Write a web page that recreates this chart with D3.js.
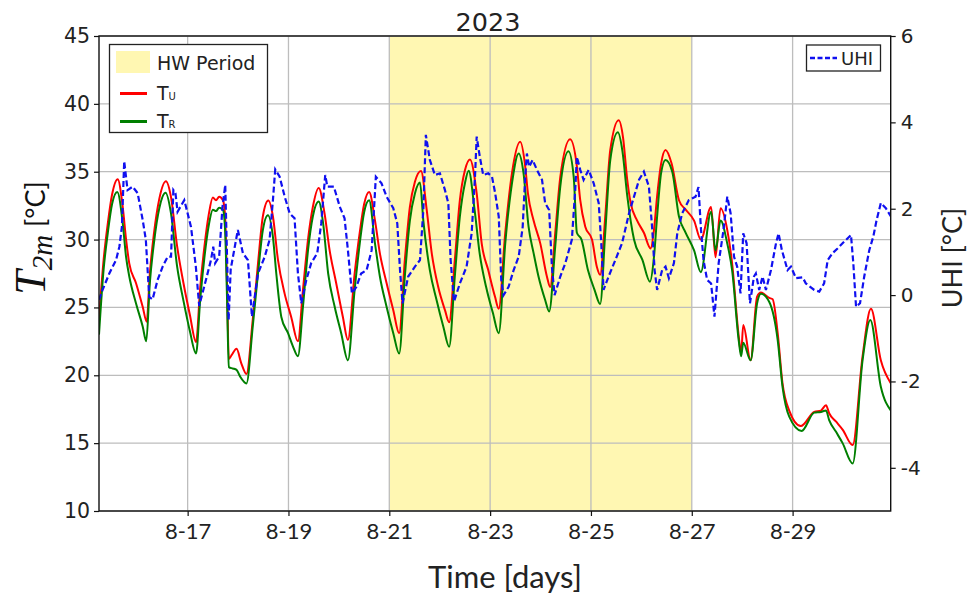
<!DOCTYPE html>
<html>
<head>
<meta charset="utf-8">
<script src="https://cdn.jsdelivr.net/npm/d3@7"></script>
<style>
  body { margin: 0; background: #ffffff; }
  svg { display: block; }
</style>
</head>
<body>
<svg id="chart" width="970" height="599"></svg>
<script>
// Hourly readings, [hours since 15 Aug 2023 00:00, value]
const urbanTemp = [
  [5.8, 24.1], [8, 28.5], [10, 31.2], [12, 33.3], [14.7, 34.45], [17.1, 32.4], [18.7, 30.0], [20.2, 28.25], [23.4, 26.8], [26.6, 25.05], [28.5, 23.95],
  [30, 27.5], [32, 30.5], [34.5, 33.0], [37.7, 34.3], [40, 33.2], [43, 29.5], [46, 26.8], [49, 24.5], [52, 22.45],
  [54, 26.5], [56, 29.5], [58, 31.8], [60, 33.1], [61.5, 32.9], [63, 33.15], [64.8, 32.9], [65.8, 31.8], [66.7, 27.0], [67.6, 21.2], [69, 21.5], [71.3, 21.95], [73.5, 20.9], [76, 20.1],
  [79, 24.1], [81.5, 28.25], [83.8, 31.7], [86.4, 32.87], [88.6, 31.7], [91, 28.5], [94.2, 26.0], [97.3, 24.3], [100.5, 22.5],
  [102.9, 26.3], [105.3, 30.0], [107.6, 32.4], [110.4, 33.8], [113.2, 31.9], [115.6, 29.2], [118.7, 26.8], [121.9, 24.3], [124.3, 22.6],
  [127.5, 27.5], [130, 30.6], [132, 32.6], [134.4, 33.5], [137.2, 31.4], [139.5, 29.0], [142.7, 26.8], [145.9, 24.8], [148.7, 23.1],
  [151.4, 28.5], [153.8, 32.4], [156.2, 34.26], [159.1, 35.05], [161.8, 32.2], [164.2, 29.0], [167.3, 26.5], [170.5, 24.8], [172.5, 23.9],
  [175.2, 28.5], [177.6, 32.9], [180.0, 35.1], [182.4, 35.9], [185.6, 33.4], [188.0, 29.7], [191.1, 27.75], [194.3, 25.8], [196.1, 24.9],
  [199.2, 30.5], [202.4, 34.9], [206.3, 37.2], [208.7, 35.4], [210.0, 33.4], [212.7, 31.4], [215.9, 29.7], [219.0, 27.3], [220.6, 26.5],
  [223.0, 30.5], [225.4, 34.6], [230.1, 37.4], [233.3, 35.4], [234.9, 32.9], [237.3, 30.95], [240.5, 30.0], [242.8, 28.0], [244.4, 27.4],
  [246.8, 31.7], [249.2, 36.6], [253.2, 38.8], [255.3, 37.5], [257.2, 34.5], [258.9, 32.7], [262.0, 31.4], [265.2, 30.5], [268.4, 29.35],
  [270, 30.7], [271.5, 33.2], [273.4, 35.6], [275.5, 36.6], [278.4, 35.6], [281.9, 32.9], [285.1, 32.2], [289.1, 31.4], [292.3, 30.0],
  [297.2, 32.4], [299.3, 28.7], [301.7, 32.3], [304.9, 30.7], [307.2, 28.25], [310.4, 22.8], [311.5, 21.6], [312.5, 23.7], [316.0, 21.1], [319.1, 25.8],
  [320.9, 26.1], [324.9, 25.7], [326.5, 25.6], [328.9, 23.1], [331.2, 19.4], [334.4, 17.4], [339.9, 16.26], [346.3, 17.3], [349.5, 17.4], [351.9, 17.8],
  [353.4, 17.2], [356.6, 16.6], [359.8, 16.0], [364.6, 14.86], [369.3, 21.4], [373.3, 24.9], [378.0, 21.1], [382.8, 19.4]
];

const ruralTemp = [
  [5.8, 23.0], [8, 27.8], [10, 30.5], [12, 32.6], [14.5, 33.5], [17.1, 31.2], [18.7, 28.7], [20.2, 27.3], [23.4, 25.3], [26.6, 23.6], [28.3, 22.5],
  [30, 26.8], [32, 29.8], [34.5, 32.3], [37.5, 33.45], [40, 32.0], [43, 28.0], [46, 25.5], [49, 23.3], [52, 21.6],
  [54, 25.6], [56, 28.7], [58, 31.0], [60, 32.2], [61.5, 32.1], [63, 32.35], [64.8, 32.2], [65.8, 30.8], [66.7, 26.0], [67.6, 20.6], [69.5, 20.5], [71.3, 20.4], [73, 19.9], [76, 19.4],
  [79, 23.6], [81.5, 27.5], [83.8, 30.7], [86.2, 31.8], [88.6, 30.2], [90.2, 27.5], [92.6, 24.3], [95.8, 23.1], [98.2, 22.1], [100.5, 21.4],
  [102.9, 25.05], [105.3, 29.2], [107.6, 31.7], [110.4, 32.8], [112.5, 31.2], [114.9, 27.5], [118, 25.05], [121.1, 23.1], [124.3, 21.1],
  [127.5, 26.3], [130, 29.8], [132, 32.0], [134.4, 32.9], [137.2, 29.7], [139.5, 27.3], [142.7, 25.05], [145.9, 23.1], [148.7, 21.6],
  [151.4, 27.3], [153.8, 31.4], [156.2, 33.4], [158.6, 34.2], [160.2, 31.4], [163.3, 27.75], [166.5, 25.55], [169.7, 23.6], [172.5, 22.1],
  [175.2, 27.3], [177.6, 31.7], [180.0, 34.15], [181.8, 35.07], [184.6, 32.2], [187, 29.0], [190.1, 26.5], [193.3, 24.6], [196.1, 23.1],
  [199.2, 29.7], [202.4, 34.15], [205.6, 36.35], [207.9, 34.9], [210.3, 30.95], [212.7, 29.0], [215.0, 27.3], [218.2, 25.55], [220.1, 24.7],
  [223.0, 29.5], [225.4, 33.9], [229.3, 36.5], [231.8, 34.6], [233.3, 30.5], [235.5, 30.0], [238.5, 27.8], [241.7, 26.3], [244.4, 25.25],
  [246.8, 30.5], [249.2, 35.86], [252.8, 37.9], [255.0, 36.5], [257.3, 33.2], [260.5, 30.0], [264.5, 28.5], [268.1, 26.9],
  [270, 28.7], [271.5, 31.7], [273.4, 34.9], [275.5, 35.86], [278.7, 35.0], [281.9, 31.7], [285.1, 30.5], [289.1, 29.2], [292.3, 27.6],
  [297.2, 32.05], [299.3, 29.2], [301.7, 31.4], [304.9, 29.7], [307.2, 27.75], [310.4, 22.5], [311.5, 21.4], [312.5, 22.4], [316.0, 21.1], [319.1, 25.3],
  [320.9, 26.0], [324.9, 25.4], [328.9, 22.6], [331.2, 19.15], [334.4, 16.95], [340.3, 15.9], [346.3, 17.25], [349.5, 17.3], [351.9, 17.4],
  [353.4, 16.7], [356.6, 15.85], [359.8, 15.0], [364.6, 13.5], [369.3, 21.1], [373.0, 24.07], [378.0, 19.15], [382.8, 17.4]
];

const uhiSeries = [
  [5.8, -0.11], [7.5, 0.12], [10.7, 0.5], [13.9, 0.81], [15.5, 1.12], [16.7, 1.58], [17.8, 3.1], [19.4, 2.43], [21.8, 2.51], [24.2, 2.36], [26.6, 1.74], [28.1, 1.28], [29.7, -0.04], [31.3, -0.1],
  [33.7, 0.35], [36.1, 0.66], [38.5, 0.89], [40.1, 0.89], [41.2, 2.43], [42.2, 2.36], [43.2, 1.93], [46.4, 2.2], [49.6, 1.58], [51.9, 0.66], [53.5, -0.25],
  [56.7, 0.35], [59.1, 0.81], [60.2, 1.12], [61.1, 0.74], [63, 0.89], [64.6, 2.05], [65.9, 2.55], [66.7, 1.0], [67.5, -0.58], [68.5, 0.6], [71.9, 1.51], [74.3, 0.97], [76.7, 0.81], [78.6, -0.5],
  [81.5, 0.5], [84.7, 0.89], [87.0, 1.28], [88.6, 2.2], [89.7, 2.91], [91.8, 2.74], [94.2, 2.28], [96.6, 1.89], [98.9, 1.78], [100.5, 0.5], [102.1, -0.19],
  [104.5, 0.35], [106.8, 0.74], [109.7, 0.97], [111.6, 1.66], [113.5, 2.78], [114.5, 2.51], [117.6, 2.51], [120.4, 2.05], [122.7, 1.78], [124.3, 1.04], [126.2, 0.04], [128.3, 0.19], [130.6, 0.5],
  [133.2, 0.58], [135.6, 1.04], [137.6, 2.74], [140.3, 2.59], [142.7, 2.28], [145.9, 2.01], [147.8, 1.66], [149.1, 0.58], [150.3, -0.19],
  [153.0, 0.43], [156.2, 0.66], [158.6, 0.81], [160.2, 1.97], [161.4, 3.71], [163.3, 3.13], [165.7, 2.78], [168.1, 2.82], [170.5, 2.43], [172.1, 2.13], [173.2, 0.81], [174.8, -0.15],
  [177.6, 0.27], [180.8, 0.66], [183.2, 1.43], [184.8, 2.74], [185.6, 3.67], [187.1, 3.2], [188.7, 2.78], [191.1, 2.82], [192.9, 2.74], [194.4, 2.36], [196.1, 1.82], [197.3, 0.35], [198.4, 0.0],
  [200.8, 0.19], [203.2, 0.58], [205.6, 0.89], [207.5, 1.58], [208.7, 2.74], [209.5, 3.28], [210.6, 2.97], [212.2, 3.13], [214.3, 2.9], [216.7, 2.67], [218.2, 2.13], [220.1, 1.97], [221.4, 0.66], [222.7, 0.0],
  [225.4, 0.43], [227.8, 0.74], [230.9, 1.28], [232.5, 2.43], [233.3, 3.2], [234.9, 2.9], [236.5, 2.67], [238.9, 2.9], [241.3, 2.59], [243.7, 2.13], [244.9, 1.2], [246.0, 0.12],
  [248.4, 0.43], [251.6, 0.81], [254.8, 1.2], [258.1, 1.89], [260.5, 2.28], [262.9, 2.67], [265.2, 2.86], [267.6, 2.51], [269.2, 1.51], [270.3, 0.58], [271.5, 0.12],
  [273.9, 0.58], [275.5, 0.66], [277.1, 0.39], [279.5, 0.74], [281.1, 1.43], [283.4, 1.89], [286.6, 2.2], [289.8, 2.28], [291.2, 2.5], [292.4, 1.51], [293.6, 0.81], [295.3, 0.35], [297.2, 0.27],
  [298.8, -0.5], [300.8, 0.74], [303.1, 1.51], [304.9, 2.28], [306.5, 1.89], [308.1, 0.89], [309.6, 0.66], [311.2, 0.04], [312.5, 1.43], [314.1, 1.2], [315.7, -0.19], [317.6, 0.43], [318.5, 0.5],
  [320.1, 0.12], [321.7, 0.43], [323.3, 0.12], [325.7, 0.58], [328.1, 1.2], [329.3, 1.43], [330.9, 1.04], [333.6, 0.58], [335.2, 0.66], [337.6, 0.39], [340.8, 0.41], [342.3, 0.27],
  [346.3, 0.12], [348.7, 0.08], [351.0, 0.27], [352.7, 0.81], [355.0, 0.97], [357.4, 1.08], [360.6, 1.24], [363.8, 1.39], [364.9, 0.74], [366.2, -0.27], [368.1, -0.19],
  [370.1, 0.43], [372.5, 1.04], [374.4, 1.35], [376.0, 1.74], [378.0, 2.13], [380.4, 2.01], [382.8, 1.82]
];

const heatWaveDays = [21, 27];               // HW period, days of August
const tempTicks = [10, 15, 20, 25, 30, 35, 40, 45];
const uhiTicks = [-4, -2, 0, 2, 4, 6];
const dayTicks = [17, 19, 21, 23, 25, 27, 29];
const timeSpan = [5.8, 382.7];              // hours since 15 Aug 00:00

const base = new Date(2023, 7, 15);
const atHour = h => new Date(base.getTime() + h * 3600e3);
const augDay = d => new Date(2023, 7, d);

const svg = d3.select("#chart");
const plot = { left: 99, right: 890.7, top: 36, bottom: 511 };
const hwFill = "#fff7b2";

const x = d3.scaleTime().domain(timeSpan.map(atHour)).range([plot.left, plot.right]);
const yT = d3.scaleLinear().domain([10, 45]).range([plot.bottom, plot.top]);
const yU = d3.scaleLinear().domain([-5, 6]).range([plot.bottom, plot.top]);

svg.append("defs").append("clipPath").attr("id", "plotClip")
  .append("rect")
  .attr("x", plot.left).attr("y", plot.top)
  .attr("width", plot.right - plot.left).attr("height", plot.bottom - plot.top);

// heat-wave shading
svg.append("rect")
  .attr("x", x(augDay(heatWaveDays[0])))
  .attr("y", plot.top)
  .attr("width", x(augDay(heatWaveDays[1])) - x(augDay(heatWaveDays[0])))
  .attr("height", plot.bottom - plot.top)
  .attr("fill", hwFill);

// grid
const grid = svg.append("g").attr("stroke", "#bdbdbd").attr("stroke-width", 1.3);
grid.selectAll("line.h").data(tempTicks).join("line")
  .attr("x1", plot.left).attr("x2", plot.right)
  .attr("y1", d => yT(d)).attr("y2", d => yT(d));
grid.selectAll("line.v").data(dayTicks).join("line")
  .attr("x1", d => x(augDay(d))).attr("x2", d => x(augDay(d)))
  .attr("y1", plot.top).attr("y2", plot.bottom);

const lineT = d3.line().x(d => x(atHour(d[0]))).y(d => yT(d[1])).curve(d3.curveMonotoneX);
const lineU = d3.line().x(d => x(atHour(d[0]))).y(d => yU(d[1])).curve(d3.curveLinear);

const series = svg.append("g").attr("clip-path", "url(#plotClip)").attr("fill", "none");
series.append("path").datum(urbanTemp).attr("d", lineT)
  .attr("stroke", "#ff0000").attr("stroke-width", 2).attr("stroke-linejoin", "round");
series.append("path").datum(ruralTemp).attr("d", lineT)
  .attr("stroke", "#007f00").attr("stroke-width", 2).attr("stroke-linejoin", "round");
series.append("path").datum(uhiSeries).attr("d", lineU)
  .attr("stroke", "#1010f0").attr("stroke-width", 2.2).attr("stroke-dasharray", "6,3");

// frame
svg.append("rect")
  .attr("x", plot.left).attr("y", plot.top)
  .attr("width", plot.right - plot.left).attr("height", plot.bottom - plot.top)
  .attr("fill", "none").attr("stroke", "#111").attr("stroke-width", 1.4);

// axes
const styleAxis = g => {
  g.select(".domain").remove();
  g.selectAll(".tick line").attr("stroke", "#111").attr("stroke-width", 1.2);
  g.selectAll(".tick text").attr("fill", "#222");
};

svg.append("g").attr("transform", `translate(0,${plot.bottom})`)
  .call(d3.axisBottom(x).tickValues(dayTicks.map(augDay))
    .tickFormat(d3.timeFormat("%-m-%d")).tickSize(5).tickPadding(7))
  .call(styleAxis)
  .call(g => g.selectAll(".tick text").attr("font-family", "Lato, sans-serif").attr("font-size", 22));

svg.append("g").attr("transform", `translate(${plot.left},0)`)
  .call(d3.axisLeft(yT).tickValues(tempTicks).tickSize(5).tickPadding(4))
  .call(styleAxis)
  .call(g => g.selectAll(".tick text").attr("font-family", "DejaVu Sans, sans-serif").attr("font-size", 20.5));

svg.append("g").attr("transform", `translate(${plot.right},0)`)
  .call(d3.axisRight(yU).tickValues(uhiTicks).tickFormat(d => String(d)).tickSize(5).tickPadding(5))
  .call(styleAxis)
  .call(g => g.selectAll(".tick text").attr("font-family", "DejaVu Sans, sans-serif").attr("font-size", 20));

// title and axis labels
svg.append("text").attr("x", 488).attr("y", 31).attr("text-anchor", "middle")
  .attr("font-family", "DejaVu Sans, sans-serif").attr("font-size", 25.5).attr("fill", "#222")
  .text("2023");

svg.append("text").attr("x", 505).attr("y", 588).attr("text-anchor", "middle")
  .attr("font-family", "Lato, sans-serif").attr("font-size", 31).attr("fill", "#222")
  .text("Time [days]");

const yLab = svg.append("text").attr("transform", "translate(45,238) rotate(-90)")
  .attr("text-anchor", "middle").attr("fill", "#111");
yLab.append("tspan").attr("font-family", "Liberation Serif, serif").attr("font-style", "italic")
  .attr("font-size", 44).text("T");
yLab.append("tspan").attr("font-family", "Liberation Serif, serif").attr("font-style", "italic")
  .attr("font-size", 29).attr("dy", 7).text("2m");
yLab.append("tspan").attr("font-family", "Lato, sans-serif").attr("font-size", 27)
  .attr("dy", -7).attr("dx", 8).text("[°C]");

svg.append("text").attr("transform", "translate(962,258) rotate(-90)")
  .attr("text-anchor", "middle").attr("font-family", "Lato, sans-serif")
  .attr("font-size", 27).attr("fill", "#222").text("UHI [°C]");

// left legend
const legL = svg.append("g");
legL.append("rect").attr("x", 109.5).attr("y", 44.5).attr("width", 158).attr("height", 88)
  .attr("fill", "#fff").attr("stroke", "#222").attr("stroke-width", 1.3);
legL.append("rect").attr("x", 116).attr("y", 51).attr("width", 34).attr("height", 22).attr("fill", hwFill);
legL.append("text").attr("x", 157).attr("y", 70).attr("font-family", "DejaVu Sans, sans-serif")
  .attr("font-size", 19).attr("fill", "#222").text("HW Period");
[["#ff0000", 93.5, "U"], ["#007f00", 121.5, "R"]].forEach(([c, yy, sub]) => {
  legL.append("line").attr("x1", 120).attr("x2", 147).attr("y1", yy).attr("y2", yy)
    .attr("stroke", c).attr("stroke-width", 3);
  const t = legL.append("text").attr("x", 157).attr("y", yy + 6.5)
    .attr("font-family", "DejaVu Sans, sans-serif").attr("fill", "#222");
  t.append("tspan").attr("font-size", 19).text("T");
  t.append("tspan").attr("font-size", 10).attr("dy", 0).text(sub);
});

// right legend
const legR = svg.append("g");
legR.append("rect").attr("x", 806.5).attr("y", 45).attr("width", 74).attr("height", 26)
  .attr("fill", "#fff").attr("stroke", "#222").attr("stroke-width", 1.3);
legR.append("line").attr("x1", 810).attr("x2", 837).attr("y1", 58).attr("y2", 58)
  .attr("stroke", "#1010f0").attr("stroke-width", 2.6).attr("stroke-dasharray", "5,2.5");
legR.append("text").attr("x", 841).attr("y", 65).attr("font-family", "DejaVu Sans, sans-serif")
  .attr("font-size", 18).attr("fill", "#222").text("UHI");
</script>
</body>
</html>
